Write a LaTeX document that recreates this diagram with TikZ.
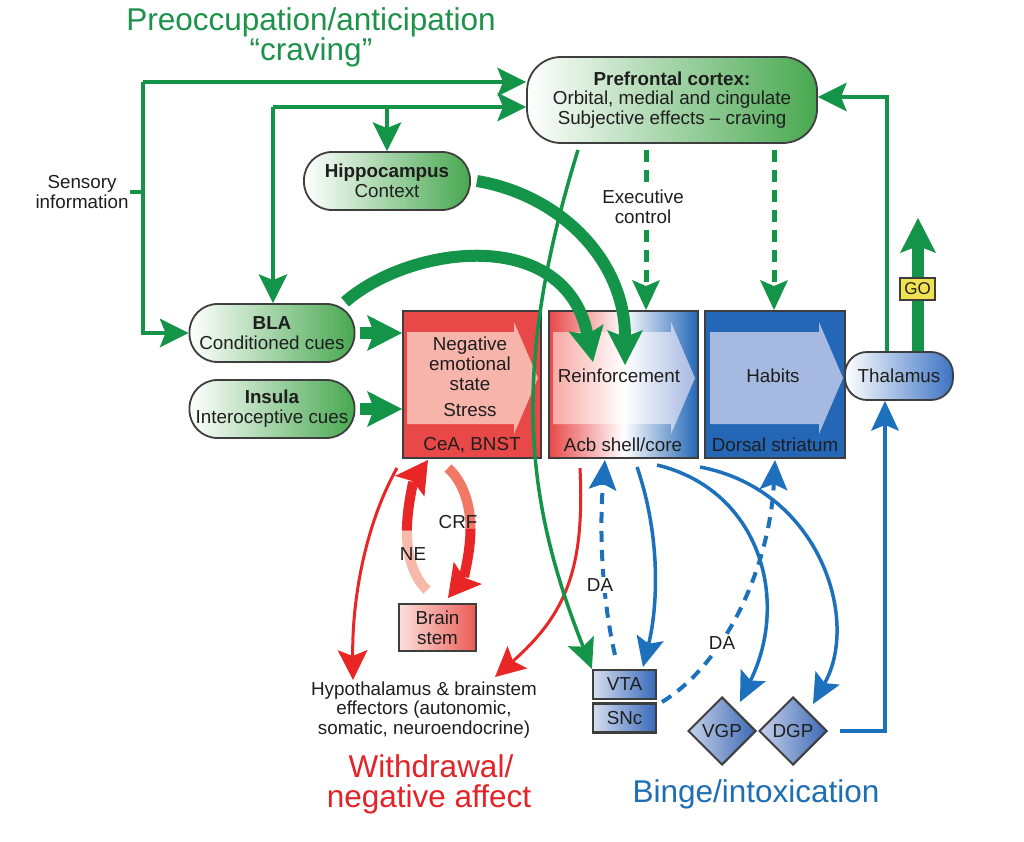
\documentclass[tikz,border=0pt]{standalone}
\usepackage{fontspec}
\setmainfont{Liberation Sans}
\usetikzlibrary{arrows.meta,shapes.geometric,calc}
\definecolor{gA}{RGB}{20,148,72}
\definecolor{gT}{RGB}{30,145,75}
\definecolor{pillG}{RGB}{72,168,80}
\definecolor{edgeD}{RGB}{62,62,62}
\definecolor{rA}{RGB}{232,38,38}
\definecolor{rT}{RGB}{228,35,40}
\definecolor{rLight}{RGB}{247,185,170}
\definecolor{rMid}{RGB}{240,120,100}
\definecolor{bA}{RGB}{28,112,188}
\definecolor{bT}{RGB}{30,110,180}
\definecolor{boxR}{RGB}{232,72,72}
\definecolor{boxRin}{RGB}{247,180,170}
\definecolor{acbInL}{RGB}{246,170,165}
\definecolor{boxB}{RGB}{35,103,182}
\definecolor{boxBin}{RGB}{165,185,225}
\definecolor{thalB}{RGB}{60,115,195}
\definecolor{smL}{RGB}{215,222,240}
\definecolor{smR}{RGB}{55,105,185}
\definecolor{dmL}{RGB}{200,210,235}
\definecolor{dmR}{RGB}{60,105,180}
\definecolor{bsL}{RGB}{250,225,220}
\definecolor{bsR}{RGB}{236,90,85}
\definecolor{goY}{RGB}{240,225,80}
\definecolor{txtc}{RGB}{30,30,30}
\newcommand\bodyfs{\fontsize{18.8}{19.8}\selectfont}
\newcommand\titlefs{\fontsize{31.5}{31.5}\selectfont}
\begin{document}
\begin{tikzpicture}[x=1pt,y=-1pt,
  txt/.style={font=\bodyfs, text=txtc, align=center, inner sep=0pt},
  pill/.style={draw=edgeD, line width=1.8pt, rounded corners=28pt, left color=white, right color=pillG, font=\bodyfs, text=txtc, align=center, inner sep=0pt, minimum height=58pt},
  boxn/.style={draw=edgeD, line width=2pt, minimum height=147pt, inner sep=0pt},
  smallbox/.style={draw=edgeD, line width=2.2pt, left color=smL, right color=smR, minimum width=63pt, minimum height=29pt, font=\bodyfs, text=txtc, inner sep=0pt},
  dmd/.style={diamond, draw=edgeD, line width=2pt, left color=dmL, right color=dmR, minimum width=68pt, minimum height=68pt, inner sep=0pt, font=\bodyfs, text=txtc},
  ttl/.style={font=\titlefs, anchor=base, inner sep=0pt},
  gplain/.style={draw=gA, line width=4pt},
  gthin/.style={draw=gA, line width=4pt, -{Stealth[length=29pt,width=29pt,inset=6pt,line width=0pt]}},
  gvta/.style={draw=gA, line width=3.5pt, -{Stealth[length=30pt,width=28pt,inset=6pt,line width=0pt]}},
  gbig/.style={draw=gA, line width=12pt, -{Stealth[length=35pt,width=36pt,inset=7pt,line width=0pt]}},
  gdash/.style={draw=gA, line width=5pt, dash pattern=on 12pt off 8pt, -{Stealth[length=30pt,width=28pt,inset=6pt,line width=0pt]}},
  rthin/.style={draw=rA, line width=3pt, -{Stealth[length=30pt,width=30pt,inset=6pt,line width=0pt]}},
  rthick/.style={line width=10pt},
  rtip/.style={-{Stealth[length=32pt,width=36pt,inset=6pt,line width=0pt]}},
  bthin/.style={draw=bA, line width=3.5pt, -{Stealth[length=30pt,width=28pt,inset=6pt,line width=0pt]}},
  bdash/.style={draw=bA, line width=4pt, dash pattern=on 11pt off 8pt, -{Stealth[length=30pt,width=28pt,inset=6pt,line width=0pt]}},
  lbl/.style={font=\bodyfs, text=txtc, fill=white, inner sep=1.5pt, align=center}
]
\fill[white] (0,0) rectangle (1024,842);
\useasboundingbox (0,0) rectangle (1024,842);

% ---------- titles
\node[ttl, text=gT] (t1) at (311,31) {Preoccupation/anticipation};
\node[ttl, text=gT] (t2) at (311,61) {“craving”};
\node[ttl, text=rT] (w1) at (431,777) {Withdrawal/};
\node[ttl, text=rT] (w2) at (429,807) {negative affect};
\node[ttl, text=bT] (bi) at (756,802) {Binge/intoxication};

% ---------- three boxes
\node[boxn, fill=boxR, minimum width=138pt] (cea) at (472,384.5) {};
\node[boxn, left color=boxR, right color=boxB, middle color=white, minimum width=149pt] (acb) at (623.5,384.5) {};
\node[boxn, fill=boxB, minimum width=140pt] (ds) at (775,384.5) {};
\fill[boxRin] (407,332) -- (514,332) -- (514,322) -- (538,378) -- (514,434) -- (514,424) -- (407,424) -- cycle;
\shade[left color=acbInL, right color=boxBin, middle color=white] (553,332) -- (671,332) -- (671,322) -- (695,378) -- (671,434) -- (671,424) -- (553,424) -- cycle;
\fill[boxBin] (710,332) -- (819,332) -- (819,322) -- (843,378) -- (819,434) -- (819,424) -- (710,424) -- cycle;
\node[txt] (neg) at (470,364) {Negative\\emotional\\state};
\node[txt] (str) at (470,410) {Stress};
\node[txt] (ceal) at (472,445) {CeA, BNST};
\node[txt] (rein) at (619,376) {Reinforcement};
\node[txt] (acbl) at (623,445) {Acb shell/core};
\node[txt] (hab) at (773,376) {Habits};
\node[txt] (dsl) at (775,445) {Dorsal striatum};

% ---------- green pills
\node[pill, minimum width=290pt, minimum height=86pt, rounded corners=34pt] (pfc) at (672,100) {\textbf{Prefrontal cortex:}\\Orbital, medial and cingulate\\Subjective effects – craving};
\node[pill, minimum width=166pt] (hip) at (387,181) {\textbf{Hippocampus}\\Context};
\node[pill, minimum width=165pt] (bla) at (272,333) {\textbf{BLA}\\Conditioned cues};
\node[pill, minimum width=165pt] (ins) at (272,409) {\textbf{Insula}\\Interoceptive cues};
\node[txt] (sens) at (82,192) {Sensory\\information};

% ---------- other nodes
\node[draw=edgeD, line width=1.8pt, rounded corners=22pt, left color=white, right color=thalB, minimum width=108pt, minimum height=48pt, font=\bodyfs, text=txtc, inner sep=0pt] (thal) at (899,376) {Thalamus};
\node[draw=edgeD, line width=2.5pt, left color=bsL, right color=bsR, minimum width=77pt, minimum height=47pt, font=\bodyfs, text=txtc, align=center, inner sep=0pt] (bs) at (437.5,627.5) {Brain\\stem};
\node[smallbox] (vta) at (624.5,684.5) {VTA};
\node[smallbox] (snc) at (624.5,718) {SNc};
\node[dmd] (vgp) at (722,731) {VGP};
\node[dmd] (dgp) at (793,731) {DGP};
\node[txt] (hyp) at (424,710) {Hypothalamus \& brainstem\\effectors (autonomic,\\somatic, neuroendocrine)};

% ---------- coordinates
\coordinate (ca) at (143,82);
\coordinate (cb) at (143,333);
\coordinate (ci) at (273,107);
\coordinate (ct) at (887,97);
\coordinate (gotip) at (918,218);
\coordinate (e1) at (646,150);
\coordinate (e2) at (774,150);
\coordinate (tb) at (885,731);

% ---------- green straight connectors
\draw[gplain] ([xshift=1pt]sens.east) -- (ca |- sens.east);
\draw[gthin] (ca) -- (pfc.west |- ca);
\draw[gthin] (ca) -- (cb) -- (bla.west);
\draw[gthin] (ci) -- (pfc.west |- ci);
\draw[gthin] (ci) -- (bla.north -| ci);
\draw[gthin] (ci -| hip.north) -- (hip.north);
\draw[gthin] (thal.north -| ct) -- (ct) -- (pfc.east |- ct);
\draw[gbig] ([xshift=5pt]bla.east) -- (cea.west |- bla.east);
\draw[gbig] ([xshift=5pt]ins.east) -- (cea.west |- ins.east);
\draw[gbig] (thal.north -| gotip) -- (gotip);
\node[draw=edgeD, line width=1.2pt, fill=goY, minimum width=35pt, minimum height=22pt, inner sep=0pt, font=\fontsize{17}{17}\selectfont, text=txtc] (go) at (917.5,289) {GO};
\draw[gdash] (e1) -- (e1 |- acb.north);
\draw[gdash] (e2) -- (e2 |- ds.north);
\node[lbl] (exe) at (643,207) {Executive\\control};

% ---------- red connectors
\draw[rthin] (397,468) .. controls (365,525) and (352,600) .. (353,680);
\draw[rthin] (580,468) .. controls (585,570) and (565,615) .. (495,677);
\draw[rthick, draw=rLight] (427,590) .. controls (413.5,577.5) and (406.75,555) .. (406.9,530.6);
\draw[rthick, draw=rA, rtip] (406.9,530.6) .. controls (407,506.25) and (414,480) .. (428,460);
\draw[rthick, draw=rMid] (448,468) .. controls (463,481.5) and (470.5,504.5) .. (470.5,528.9);
\draw[rthick, draw=rA, rtip] (470.5,528.9) .. controls (470.5,553.25) and (463,579) .. (448,598);
\node[txt] (crf) at (458,522) {CRF};
\node[txt] (ne) at (413,554) {NE};

% ---------- green curves
\draw[gvta] (578,150) .. controls (510,370) and (525,500) .. (vta.north west);
\draw[gbig] (345,302) .. controls (410,245) and (565,225) .. (593,362);
\draw[gbig] ([xshift=6pt]hip.east) .. controls (560,195) and (625,260) .. (625,365);

% ---------- blue connectors
\draw[bthin] (637,467) .. controls (662,540) and (657,610) .. (643,667);
\draw[bthin] (657,465) .. controls (760,490) and (790,600) .. (740,702);
\draw[bthin] (700,467) .. controls (820,490) and (860,620) .. (813,704);
\draw[bdash] (615,655) .. controls (600,590) and (600,520) .. (605,460);
\draw[bdash] (662,702) .. controls (730,660) and (770,560) .. (775,460);
\draw[bthin] ([xshift=12pt]dgp.east) -- (tb) -- (thal.south -| tb);
\node[lbl] (da1) at (600,585) {DA};
\node[lbl] (da2) at (722,643) {DA};
\end{tikzpicture}
\end{document}
